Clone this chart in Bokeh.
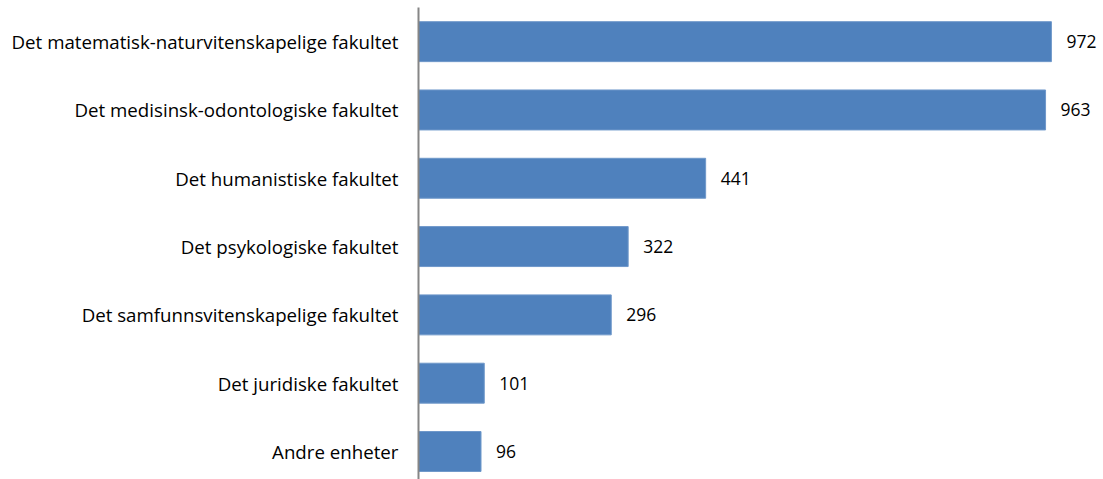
from bokeh.plotting import figure
from bokeh.models import Range1d, FixedTicker, ColumnDataSource
from bokeh.embed import file_html
from bokeh.resources import INLINE
from bokeh.core.properties import value

categories = [
    "Det matematisk-naturvitenskapelige fakultet",
    "Det medisinsk-odontologiske fakultet",
    "Det humanistiske fakultet",
    "Det psykologiske fakultet",
    "Det samfunnsvitenskapelige fakultet",
    "Det juridiske fakultet",
    "Andre enheter",
]
counts = [972, 963, 441, 322, 296, 101, 96]

pos = list(range(len(categories)))
src = ColumnDataSource(dict(y=pos, v=counts, lab=[str(c) for c in counts]))

FONT = "Open Sans"

p = figure(width=1103, height=479, output_backend="svg", toolbar_location=None,
           x_range=Range1d(0, 1052), y_range=Range1d(6.41, -0.5),
           min_border_left=418, min_border_right=0, min_border_top=7, min_border_bottom=0)
p.outline_line_color = None
p.xgrid.visible = False
p.ygrid.visible = False
p.xaxis.visible = False
p.background_fill_color = "white"
p.border_fill_color = "white"

p.hbar(y="y", right="v", left=0, height=0.585, source=src,
       fill_color="#4F81BD", line_color="#6F98CA", line_width=1)
p.text(x="v", y="y", text="lab", source=src, x_offset=15,
       text_baseline="middle", text_align="left",
       text_font=value(FONT), text_font_size="17.5px", text_color="#000000")

ya = p.yaxis[0]
ya.ticker = FixedTicker(ticks=pos)
ya.major_label_overrides = {i: c for i, c in enumerate(categories)}
ya.major_tick_line_color = None
ya.minor_tick_line_color = None
ya.major_tick_out = 0
ya.major_tick_in = 0
ya.major_label_standoff = 20
ya.axis_line_color = "#868686"
ya.axis_line_width = 2
ya.major_label_text_font = FONT
ya.major_label_text_font_size = "18.7px"
ya.major_label_text_color = "#000000"

open("out.html", "w").write(file_html(p, INLINE))
